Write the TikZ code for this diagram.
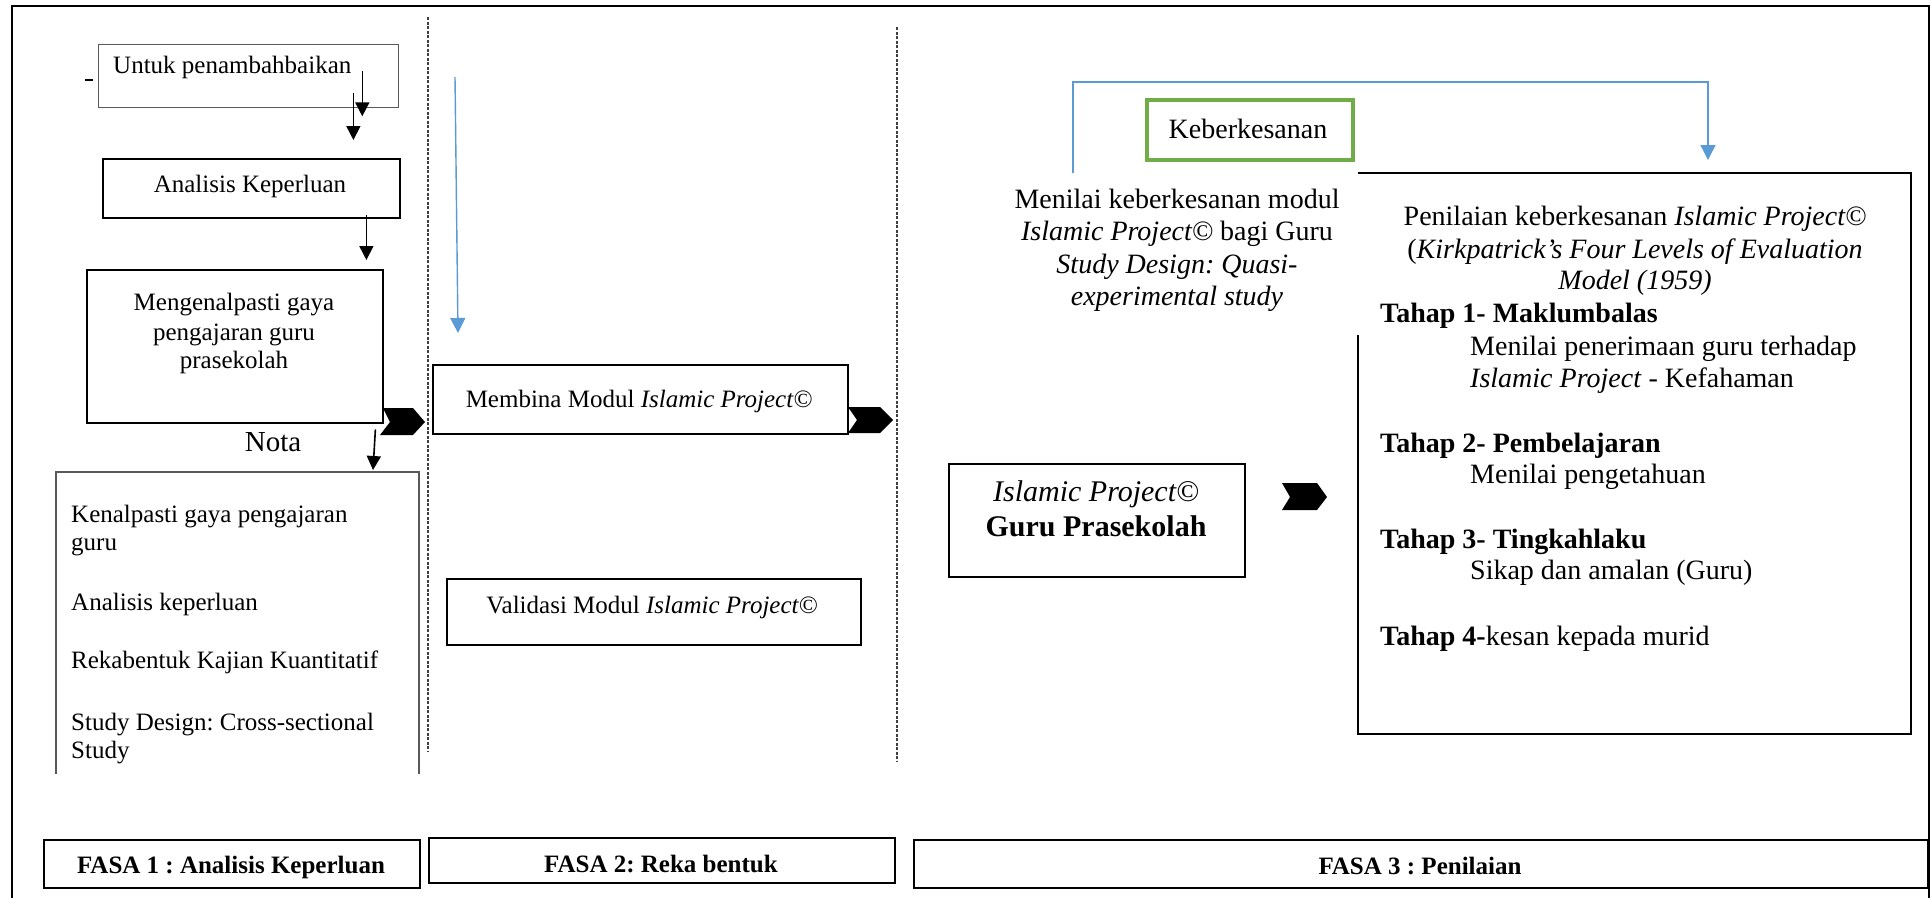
\documentclass[tikz,border=0pt]{standalone}
\usepackage{fontspec}
\setmainfont{Liberation Serif}
\usetikzlibrary{arrows.meta,calc}
\definecolor{bluec}{HTML}{5B9BD5}
\definecolor{greenc}{HTML}{70AD47}
\frenchspacing
\begin{document}
\begin{tikzpicture}[x=1pt,y=-1pt,
  frame/.style={line width=2.5pt},
  box/.style={draw, line width=2.4pt, inner sep=0pt, anchor=north west},
  thinbox/.style={draw=black!65, line width=1.3pt},
  dline/.style={draw=black!75, line width=1.4pt, dash pattern=on 3pt off 1.5pt},
  arr/.style={line width=1.6pt, -{Triangle[width=14pt,length=14pt]}},
  barr/.style={draw=bluec, line width=1.4pt, -{Triangle[width=15pt,length=15pt]}},
  chev/.style={fill=black},
  fL/.style={font=\fontsize{25}{29}\selectfont},
  fLb/.style={font=\fontsize{25}{29}\selectfont\bfseries},
  fR/.style={font=\fontsize{28}{32}\selectfont},
  fG/.style={font=\fontsize{30}{34}\selectfont},
  tb/.style={inner sep=0pt, anchor=base},
  tw/.style={inner sep=0pt, anchor=base west},
]
\useasboundingbox (0,0) rectangle (1931,898);
\fill[white] (0,0) rectangle (1931,898);

% outer frame and phase separators
\draw[frame] (12,898) -- (12,6) -- (1929,6) -- (1929,898);
\draw[dline] (428,17) -- (428,752);
\draw[dline] (897,27) -- (897,762);

% ---------- FASA 1 ----------
\node[box, thinbox, minimum width=300pt, minimum height=63pt] (untuk) at (98,44) {};
\node[fL,tw] (t-untuk) at (113,73) {Untuk penambahbaikan};
\draw[line width=2pt] (85,80) -- (93,80);

\node[box, minimum width=297pt, minimum height=59pt] (ak) at (102,158) {};
\node[fL,tb] (t-ak) at (250,192) {Analisis Keperluan};

\node[box, minimum width=296pt, minimum height=153pt] (mg) at (86,269) {};
\node[fL,tb] (t-mg1) at (234,310) {Mengenalpasti gaya};
\node[fL,tb] (t-mg2) at (234,340) {pengajaran guru};
\node[fL,tb] (t-mg3) at (234,368) {prasekolah};

\draw[arr] ([xshift=-37pt,yshift=37pt]untuk.south east) -- ([xshift=-37pt,yshift=-8pt]untuk.south east);
\draw[arr] ([xshift=-48pt,yshift=65pt]ak.north east) -- ([xshift=-48pt,yshift=18pt]ak.north east);
\draw[arr] ([xshift=-35pt,yshift=4pt]ak.south east) -- ([xshift=-18pt,yshift=9pt]mg.north east);

\node[font=\fontsize{29}{33}\selectfont,tb] (t-nota) at (273,451) {Nota};
\coordinate (notatop) at (373,472);
\draw[thinbox] (56,774) -- (56,472) -- (419,472) -- (419,774);
\draw[arr] ([xshift=-9pt,yshift=-5pt]mg.south east) -- ([yshift=2pt]notatop);
\node[fL,tw] (n1) at (71,522) {Kenalpasti gaya pengajaran};
\node[fL,tw] (n2) at (71,550) {guru};
\node[fL,tw] (n3) at (71,610) {Analisis keperluan};
\node[fL,tw] (n4) at (71,668) {Rekabentuk Kajian Kuantitatif};
\node[fL,tw] (n5) at (71,730) {Study Design: Cross-sectional};
\node[fL,tw] (n6) at (71,758) {Study};

\fill[chev] (383,408) -- (413,408) -- (425,422) -- (413,435) -- (380,435) -- (390,422) -- cycle;

\node[box, minimum width=376pt, minimum height=48pt] (f1) at (43,839) {};
\node[fLb,tb] (t-f1) at (231,873) {FASA 1 : Analisis Keperluan};

% ---------- FASA 2 ----------
\coordinate (b1s) at (455,77);
\coordinate (b1e) at (458,333);
\draw[barr] (b1s) -- (b1e);

\node[box, minimum width=415pt, minimum height=69pt] (mb) at (432,364) {};
\node[fL,tb] (t-mb) at (639,407) {Membina Modul \textit{Islamic Project©}};

\fill[chev] (848,407) -- (880,407) -- (893,420) -- (880,433) -- (848,433) -- (857,420) -- cycle;

\node[box, minimum width=414pt, minimum height=66pt] (vd) at (446,578) {};
\node[fL,tb] (t-vd) at (652,613) {Validasi Modul \textit{Islamic Project©}};

\node[box, minimum width=466pt, minimum height=45pt] (f2) at (428,837) {};
\node[fLb,tb] (t-f2) at (661,872) {FASA 2: Reka bentuk};

% ---------- FASA 3 ----------
\node[box, draw=greenc, line width=4pt, minimum width=206pt, minimum height=60pt] (kb) at (1145,98) {};
\node[fR,tb] (t-kb) at (1248,138) {Keberkesanan};

\node[fR,tb] (m1) at (1177,208) {Menilai keberkesanan modul};
\node[fR,tb] (m2) at (1177,240) {\textit{Islamic Project©} bagi Guru};
\node[fR,tb] (m3) at (1177,273) {\textit{Study Design: Quasi-}};
\node[fR,tb] (m4) at (1177,305) {\textit{experimental study}};

\coordinate (b2s) at (1073,173);
\coordinate (pntop) at (1708,173);
\draw[barr] (b2s) -- (1073,82) -- (1708,82) -- ([yshift=13pt]pntop);

\draw[line width=2.6pt] (1358,335) -- (1358,734) -- (1911,734) -- (1911,173) -- (1358,173);
\node[fR,tb] (p1) at (1635,225) {Penilaian keberkesanan \textit{Islamic Project©}};
\node[fR,tb] (p2) at (1635,258) {(\textit{Kirkpatrick’s Four Levels of Evaluation}};
\node[fR,tb] (p3) at (1635,289) {\textit{Model (1959)}};
\node[fR,tw] (h1) at (1380,322) {\textbf{Tahap 1- Maklumbalas}};
\node[fR,tw] (h1a) at (1470,355) {Menilai penerimaan guru terhadap};
\node[fR,tw] (h1b) at (1470,387) {\textit{Islamic Project} - Kefahaman};
\node[fR,tw] (h2) at (1380,452) {\textbf{Tahap 2- Pembelajaran}};
\node[fR,tw] (h2a) at (1470,483) {Menilai pengetahuan};
\node[fR,tw] (h3) at (1380,548) {\textbf{Tahap 3- Tingkahlaku}};
\node[fR,tw] (h3a) at (1470,579) {Sikap dan amalan (Guru)};
\node[fR,tw] (h4) at (1380,645) {\textbf{Tahap 4-}kesan kepada murid};

\node[box, minimum width=296pt, minimum height=113pt] (gp) at (948,463) {};
\node[fG,tb] (g1) at (1096,501) {\textit{Islamic Project©}};
\node[fG,tb] (g2) at (1096,536) {\textbf{Guru Prasekolah}};

\fill[chev] (1282,483) -- (1317,483) -- (1327,497) -- (1317,510) -- (1282,510) -- (1290,497) -- cycle;

\node[box, minimum width=1014pt, minimum height=48pt] (f3) at (913,839) {};
\node[fLb,tb] (t-f3) at (1420,874) {FASA 3 : Penilaian};
\end{tikzpicture}
\end{document}
